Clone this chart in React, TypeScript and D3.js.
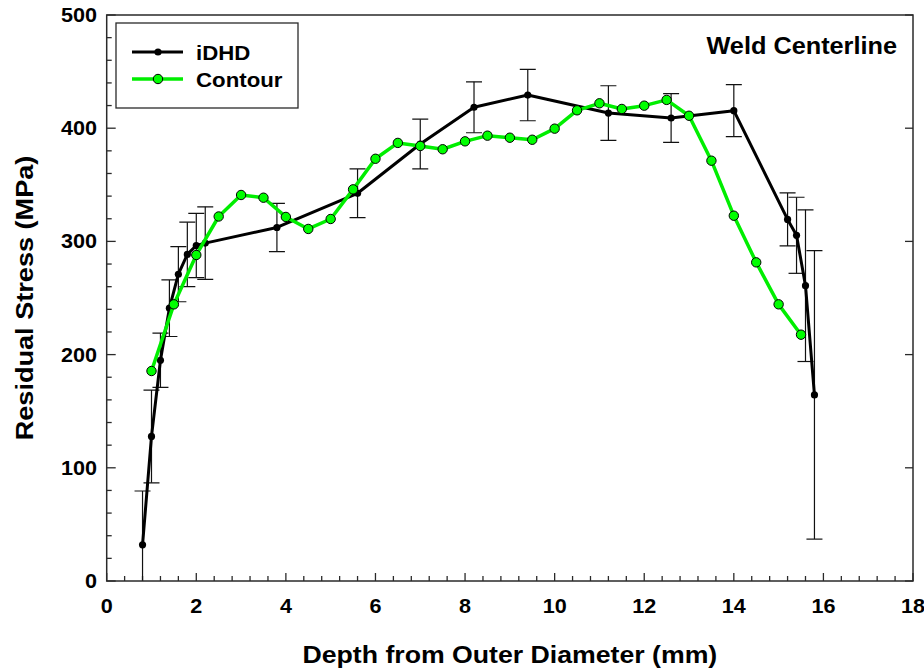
import React from "react";
import * as d3 from "d3";

const idhdX = [0.8, 1.0, 1.2, 1.4, 1.6, 1.8, 2.0, 2.2, 3.8, 5.6, 7.0, 8.2, 9.4, 11.2, 12.6, 14.0, 15.2, 15.4, 15.6, 15.8];
const idhdY = [32, 127.7, 195, 241, 271, 288.5, 296.4, 298.5, 312.3, 342.5, 386, 418.5, 429.3, 413.4, 409, 415.5, 319.4, 305.4, 260.9, 164.4];
const idhdErr = [47.5, 41, 24, 25, 24.3, 28.5, 28.4, 32, 21.3, 21.5, 22, 22.5, 22.7, 24.1, 21.6, 23, 23.4, 33.6, 67, 127.4];

const contourX = [1.0, 1.5, 2.0, 2.5, 3.0, 3.5, 4.0, 4.5, 5.0, 5.5, 6.0, 6.5, 7.0, 7.5, 8.0, 8.5, 9.0, 9.5, 10.0, 10.5, 11.0, 11.5, 12.0, 12.5, 13.0, 13.5, 14.0, 14.5, 15.0, 15.5];
const contourY = [185.5, 244.4, 288, 322, 341, 338.6, 321.6, 311, 319.8, 346, 373, 387, 384.3, 381.4, 388.4, 393.4, 391.6, 389.8, 399.6, 415.8, 422, 417, 419.9, 425, 411, 371.3, 322.7, 281.5, 244.4, 217.6];

const xTicks = [0, 2, 4, 6, 8, 10, 12, 14, 16, 18];
const yTicks = [0, 100, 200, 300, 400, 500];

const seriesNames = ["iDHD", "Contour"];
const titleText = "Weld Centerline";
const xTitle = "Depth from Outer Diameter (mm)";
const yTitle = "Residual Stress (MPa)";

const W = 924;
const H = 671;
const L = 106.7, R = 913, T = 15, B = 581;
const FONT = "'Liberation Sans', Arial, Helvetica, sans-serif";
const STRETCH = 1.08;

function Stretched(props: { x: number; y: number; anchor: string; size: number; sx: number; children: any }) {
  return (
    <text
      transform={`translate(${props.x},${props.y}) scale(${props.sx},1)`}
      textAnchor={props.anchor}
      fontWeight="bold"
      fontSize={props.size}
    >
      {props.children}
    </text>
  );
}

export default function App() {
  const x = d3.scaleLinear().domain([0, 18]).range([L, R]);
  const y = d3.scaleLinear().domain([0, 500]).range([B, T]);

  const idhd = idhdX.map((v, i) => ({ x: v, y: idhdY[i], e: idhdErr[i] }));
  const contour = contourX.map((v, i) => ({ x: v, y: contourY[i] }));

  const line = d3.line<{ x: number; y: number }>().x(d => x(d.x)).y(d => y(d.y));

  const xMinor = d3.range(0, 18.001, 0.4).filter(v => Math.abs(v / 2 - Math.round(v / 2)) > 1e-6);
  const yMinor = d3.range(0, 500.001, 20).filter(v => v % 100 !== 0);

  const axisColor = "#2a2a2a";

  return (
    <svg width={W} height={H} style={{ position: "absolute", left: 0, top: 0, background: "#fff" }} fontFamily={FONT}>
      <defs>
        <clipPath id="plotclip">
          <rect x={L} y={T} width={R - L} height={B - T} />
        </clipPath>
      </defs>
      <rect x={0} y={0} width={W} height={H} fill="#fff" />

      {/* ticks */}
      <g stroke={axisColor} strokeWidth={1.3}>
        {xTicks.map(t => (
          <line key={"xM" + t} x1={x(t)} x2={x(t)} y1={B} y2={B - 8} />
        ))}
        {xMinor.map(t => (
          <line key={"xm" + t} x1={x(t)} x2={x(t)} y1={B} y2={B - 5} />
        ))}
        {yTicks.map(t => (
          <line key={"yM" + t} x1={L} x2={L + 9} y1={y(t)} y2={y(t)} />
        ))}
        {yMinor.map(t => (
          <line key={"ym" + t} x1={L} x2={L + 5} y1={y(t)} y2={y(t)} />
        ))}
        {yTicks.map(t => (
          <line key={"yR" + t} x1={R} x2={R - 8} y1={y(t)} y2={y(t)} />
        ))}
      </g>

      {/* error bars */}
      <g clipPath="url(#plotclip)" stroke="#111" strokeWidth={1.2}>
        {idhd.map((d, i) => (
          <g key={"e" + i}>
            <line x1={x(d.x)} x2={x(d.x)} y1={y(d.y - d.e)} y2={y(d.y + d.e)} />
            <line x1={x(d.x) - 8} x2={x(d.x) + 8} y1={y(d.y + d.e)} y2={y(d.y + d.e)} />
            <line x1={x(d.x) - 8} x2={x(d.x) + 8} y1={y(d.y - d.e)} y2={y(d.y - d.e)} />
          </g>
        ))}
      </g>

      {/* iDHD line */}
      <path d={line(idhd) || ""} fill="none" stroke="#000" strokeWidth={3} strokeLinejoin="round" />
      {idhd.map((d, i) => (
        <circle key={"ic" + i} cx={x(d.x)} cy={y(d.y)} r={3.6} fill="#000" />
      ))}

      {/* Contour line */}
      <path d={line(contour) || ""} fill="none" stroke="#00ee00" strokeWidth={3.5} strokeLinejoin="round" />
      {contour.map((d, i) => (
        <circle key={"cc" + i} cx={x(d.x)} cy={y(d.y)} r={4.7} fill="#00ff00" stroke="#000" strokeWidth={1} />
      ))}

      {/* frame */}
      <rect x={L} y={T} width={R - L} height={B - T} fill="none" stroke={axisColor} strokeWidth={1.5} />

      {/* tick labels */}
      <g fill="#000">
        {xTicks.map(t => (
          <Stretched key={"xl" + t} x={x(t)} y={613} anchor="middle" size={20} sx={STRETCH}>{t}</Stretched>
        ))}
        {yTicks.map(t => (
          <Stretched key={"yl" + t} x={97} y={y(t) + 7} anchor="end" size={20} sx={STRETCH}>{t}</Stretched>
        ))}
      </g>

      {/* axis titles */}
      <Stretched x={(L + R) / 2} y={663} anchor="middle" size={23} sx={1.16}>{xTitle}</Stretched>
      <g transform={`translate(33,${(T + B) / 2}) rotate(-90)`}>
        <Stretched x={0} y={0} anchor="middle" size={24} sx={1.13}>{yTitle}</Stretched>
      </g>

      {/* title */}
      <Stretched x={897} y={54} anchor="end" size={23} sx={1.1}>{titleText}</Stretched>

      {/* legend */}
      <rect x={116} y={23} width={182} height={85} fill="#fff" stroke={axisColor} strokeWidth={1.3} />
      <line x1={132} x2={183} y1={52} y2={52} stroke="#000" strokeWidth={3} />
      <circle cx={158} cy={52} r={3.6} fill="#000" />
      <Stretched x={196} y={60} anchor="start" size={21} sx={1.06}>{seriesNames[0]}</Stretched>
      <line x1={132} x2={183} y1={79} y2={79} stroke="#00ee00" strokeWidth={3.5} />
      <circle cx={158} cy={79} r={4.7} fill="#00ff00" stroke="#000" strokeWidth={1} />
      <Stretched x={196} y={87} anchor="start" size={21} sx={1.06}>{seriesNames[1]}</Stretched>
    </svg>
  );
}
